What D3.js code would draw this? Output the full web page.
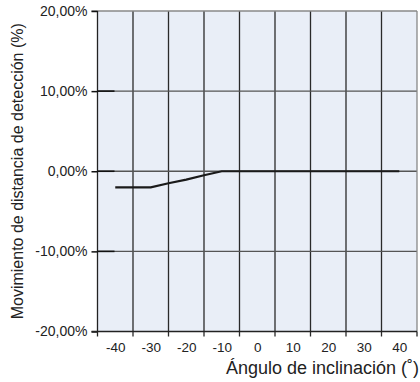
<!DOCTYPE html>
<html><head><meta charset="utf-8">
<script src="https://cdn.jsdelivr.net/npm/d3@7"></script>
<style>body{margin:0;background:#fff}svg{display:block}</style>
</head><body>
<svg id="c" width="420" height="382"></svg>
<script>
const angles = [-40,-35,-30,-25,-20,-15,-10,-5,0,5,10,15,20,25,30,35,40];
const movement = [-2,-2,-2,-1.5,-1.05,-0.5,0,0,0,0,0,0,0,0,0,0,0];
const xTickValues = [-40,-30,-20,-10,0,10,20,30,40];
const yTickValues = [20,10,0,-10,-20];
const xTitle = "Ángulo de inclinación (˚)";
const yTitle = "Movimiento de distancia de detección (%)";

const svg = d3.select("#c");
const L=97.5, R=417, T=11, B=331.5;
const x = d3.scaleLinear().domain([-45,45]).range([L,R]);
const y = d3.scaleLinear().domain([-20,20]).range([B,T]);
const font = "'Liberation Sans', Arial, Helvetica, sans-serif";

svg.append("rect").attr("x",L).attr("y",T).attr("width",R-L).attr("height",B-T).attr("fill","#e9eef7");

// vertical gridlines at interval boundaries
const vgrid = d3.range(-35,45,10);
svg.append("g").selectAll("line").data(vgrid).join("line")
  .attr("x1",d=>x(d)).attr("x2",d=>x(d)).attr("y1",T).attr("y2",B+5)
  .attr("stroke","#2a2a2a").attr("stroke-width",1.3);
// horizontal gridlines
svg.append("g").selectAll("line").data([10,0,-10]).join("line")
  .attr("x1",L).attr("x2",R).attr("y1",d=>y(d)).attr("y2",d=>y(d))
  .attr("stroke","#555").attr("stroke-width",1.3);
// frame top/right
svg.append("line").attr("x1",L-6).attr("x2",R).attr("y1",T).attr("y2",T).attr("stroke","#888").attr("stroke-width",1.3);
svg.append("line").attr("x1",R).attr("x2",R).attr("y1",T).attr("y2",B).attr("stroke","#888").attr("stroke-width",1.3);

// y axis
const yAxis = d3.axisLeft(y).tickValues(yTickValues).tickSize(6).tickPadding(4)
  .tickFormat(d=>d3.format(".2f")(d).replace("−","-").replace(".",",")+"%");
const gy = svg.append("g").attr("transform",`translate(${L},0)`).call(yAxis);
gy.select(".domain").attr("stroke","#222").attr("stroke-width",1.3).attr("d",`M0,${T}V${B}`);
gy.selectAll(".tick line").attr("stroke","#111").attr("stroke-width",1.5);
gy.selectAll("text").attr("font-family",font).attr("font-size",14).attr("fill","#222");
// inner tick segments
svg.append("g").selectAll("line").data([10,0,-10]).join("line")
  .attr("x1",L).attr("x2",L+17).attr("y1",d=>y(d)).attr("y2",d=>y(d))
  .attr("stroke","#111").attr("stroke-width",1.6);

// x axis
const xAxis = d3.axisBottom(x).tickValues(xTickValues).tickSize(0).tickPadding(11)
  .tickFormat(d=>String(d));
const gx = svg.append("g").attr("transform",`translate(0,${B})`).call(xAxis);
gx.select(".domain").remove();
gx.selectAll("text").attr("font-family",font).attr("font-size",13.5).attr("fill","#222");
svg.append("line").attr("x1",L-6).attr("x2",R).attr("y1",B).attr("y2",B).attr("stroke","#222").attr("stroke-width",1.3);
svg.append("g").selectAll("line").data([-45,45]).join("line")
  .attr("x1",d=>x(d)).attr("x2",d=>x(d)).attr("y1",B).attr("y2",B+5)
  .attr("stroke","#222").attr("stroke-width",1.3);

// data line
const line = d3.line().x((d,i)=>x(angles[i])).y(d=>y(d));
svg.append("path").datum(movement).attr("d",line).attr("fill","none")
  .attr("stroke","#1a1a1a").attr("stroke-width",2.2);

// titles
svg.append("text").attr("x",R+2).attr("y",374).attr("text-anchor","end")
  .attr("font-family",font).attr("font-size",18).attr("fill","#222").text(xTitle);
svg.append("text").attr("transform",`translate(23,${(T+B)/2}) rotate(-90)`).attr("text-anchor","middle")
  .attr("font-family",font).attr("font-size",16).attr("fill","#222").text(yTitle);
</script>
</body></html>
